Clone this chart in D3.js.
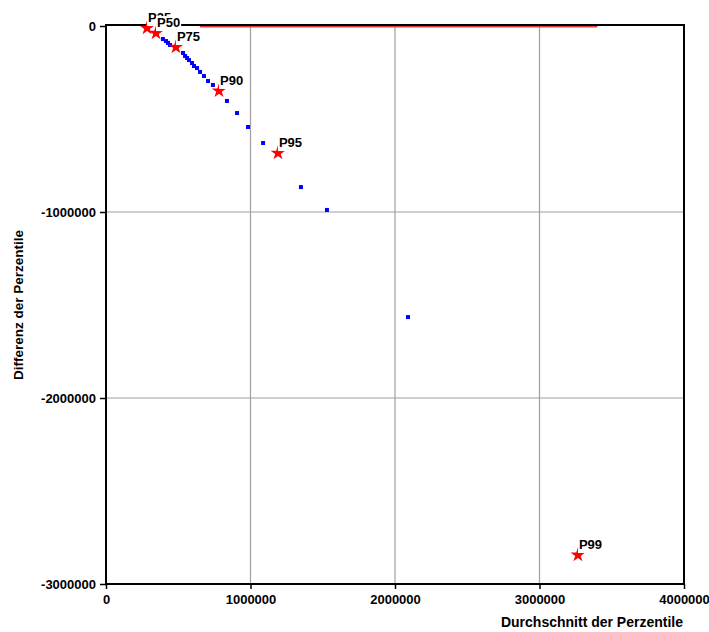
<!DOCTYPE html>
<html><head><meta charset="utf-8">
<script src="https://cdn.jsdelivr.net/npm/d3@7"></script>
<style>
body{margin:0;background:#fff;}
text{font-family:"Liberation Sans",Arial,sans-serif;font-weight:bold;}
</style></head>
<body><svg id="c" width="709" height="632"></svg>
<script>
// Percentile markers (stars)
const pctLabels = ["P25","P50","P75","P90","P95","P99"];
const pctAvg    = [284000, 346000, 484000, 782000, 1190000, 3266000];
const pctDiff   = [-11000, -38000, -113000, -349000, -683000, -2844000];
// Other percentile points (blue)
const ptAvg  = [394000, 415000, 429000, 443000, 533000, 547000, 561000, 574000, 595000, 609000, 630000, 651000, 678000, 706000, 740000, 837000, 907000, 983000, 1087000, 1349000, 1529000, 2090000];
const ptDiff = [-70000, -81000, -91000, -102000, -145000, -161000, -172000, -183000, -199000, -215000, -226000, -247000, -269000, -296000, -317000, -403000, -468000, -543000, -629000, -866000, -989000, -1565000];
// Reference line
const refX = [650000, 3400000];
const refY = 0;
// Axes
const xTicks = [0, 1000000, 2000000, 3000000, 4000000];
const yTicks = [0, -1000000, -2000000, -3000000];
const xTitle = "Durchschnitt der Perzentile";
const yTitle = "Differenz der Perzentile";

const svg = d3.select("#c");
const L = 106, R = 684, T = 26, B = 584;
const x = d3.scaleLinear().domain([0, 4000000]).range([L, R]);
const y = d3.scaleLinear().domain([-3000000, 0]).range([B, T]);

// grid
svg.append("g").selectAll("line").data(xTicks.slice(1, -1)).join("line")
  .attr("x1", d => x(d)).attr("x2", d => x(d)).attr("y1", T).attr("y2", B)
  .attr("stroke", "#a0a0a0").attr("stroke-width", 1.2);
svg.append("g").selectAll("line").data(yTicks.slice(1, -1)).join("line")
  .attr("y1", d => y(d)).attr("y2", d => y(d)).attr("x1", L).attr("x2", R)
  .attr("stroke", "#a0a0a0").attr("stroke-width", 1.2);

// reference line
svg.append("line").attr("x1", x(refX[0])).attr("x2", x(refX[1]))
  .attr("y1", y(refY) + 0.5).attr("y2", y(refY) + 0.5)
  .attr("stroke", "#e03c3c").attr("stroke-width", 2);

// axes
const xAxis = d3.axisBottom(x).tickValues(xTicks).tickFormat(d3.format("d")).tickSize(5).tickPadding(6);
const yAxis = d3.axisLeft(y).tickValues(yTicks).tickFormat(d => d === 0 ? "0" : String(d)).tickSize(6).tickPadding(4);
const gx = svg.append("g").attr("transform", `translate(0,${B})`).call(xAxis);
const gy = svg.append("g").attr("transform", `translate(${L},0)`).call(yAxis);
[gx, gy].forEach(g => {
  g.select(".domain").remove();
  g.selectAll("line").attr("stroke", "#000").attr("stroke-width", 1.5);
  g.selectAll("text").attr("fill", "#000").style("font-size", "13px")
    .style("font-family", "'Liberation Sans',Arial,sans-serif").style("font-weight", "bold");
});

// frame
svg.append("rect").attr("x", L).attr("y", T - 1).attr("width", R - L).attr("height", B - T + 1)
  .attr("fill", "none").attr("stroke", "#000").attr("stroke-width", 2);

// blue points
svg.append("g").selectAll("rect").data(ptAvg.map((a, i) => [a, ptDiff[i]])).join("rect")
  .attr("x", d => x(d[0]) - 2).attr("y", d => y(d[1]) - 2)
  .attr("width", 4).attr("height", 4).attr("fill", "#0000ff");

// stars
const star = d3.symbol().type(d3.symbolStar).size(66);
svg.append("g").selectAll("path").data(pctAvg.map((a, i) => [a, pctDiff[i]])).join("path")
  .attr("d", star).attr("transform", d => `translate(${x(d[0])},${y(d[1])})`)
  .attr("fill", "#ff0000");

// labels with white background
pctLabels.forEach((lab, i) => {
  const g = svg.append("g");
  const t = g.append("text").attr("x", x(pctAvg[i]) + 1).attr("y", y(pctDiff[i]) - 6)
    .style("font-size", "13px").attr("fill", "#000").text(lab);
  const bb = t.node().getBBox();
  g.insert("rect", "text").attr("x", bb.x - 1).attr("y", bb.y + 1).attr("width", bb.width + 2)
    .attr("height", bb.height).attr("fill", "#fff");
});

// titles
svg.append("text").attr("x", 683).attr("y", 627).attr("text-anchor", "end")
  .style("font-size", "14px").attr("fill", "#000").text(xTitle);
svg.append("text").attr("transform", `translate(23,305) rotate(-90)`).attr("text-anchor", "middle")
  .style("font-size", "13.5px").attr("fill", "#000").text(yTitle);
</script></body></html>
